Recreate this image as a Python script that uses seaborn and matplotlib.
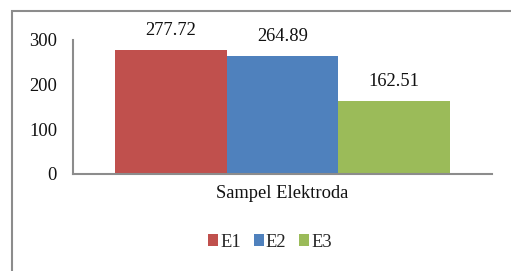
import pandas as pd
import matplotlib.pyplot as plt
import seaborn as sns
from matplotlib.patches import Rectangle

# data
category = ["Sampel Elektroda"]
electrodes = ["E1", "E2", "E3"]
values = [277.72, 264.89, 162.51]
colors = ["#C0504D", "#4F81BD", "#9BBB59"]
yticks = [0, 100, 200, 300]

df = pd.DataFrame({"sampel": category * 3, "elektroda": electrodes, "nilai": values})

sns.set_style("white")
plt.rcParams["font.family"] = ["Liberation Serif", "DejaVu Serif"]

fig = plt.figure(figsize=(5.11, 2.71), dpi=100)
ax = fig.add_axes([73 / 511, 97 / 271, 419 / 511, 134 / 271])

sns.barplot(data=df, x="sampel", y="nilai", hue="elektroda", palette=colors,
            width=0.8, saturation=1, linewidth=0, ax=ax)

for c in ax.containers:
    ax.bar_label(c, fmt="%.2f", padding=8, fontsize=13.3, color="#111111")

ax.set_xlim(-0.5, 0.5)
ax.set_ylim(0, 300)
ax.set_yticks(yticks)
ax.set_xlabel("")
ax.set_ylabel("")
ax.tick_params(axis="y", length=0, pad=11.5, labelsize=13.3, labelcolor="#111111")
ax.tick_params(axis="x", length=0, pad=8, labelsize=13.3, labelcolor="#111111")

for s in ["top", "right"]:
    ax.spines[s].set_visible(False)
for s in ["left", "bottom"]:
    ax.spines[s].set_color("#8c8c8c")
    ax.spines[s].set_linewidth(1.5)

handles, labels = ax.get_legend_handles_labels()
ax.get_legend().remove()
fig.legend(handles, labels, loc="center", bbox_to_anchor=(0.528, 0.107), ncol=3,
           frameon=False, fontsize=13.3, handlelength=0.55, handleheight=0.55,
           handletextpad=0.1, columnspacing=0.7)

# chart area border (only top and left visible in crop)
fig.patches.append(Rectangle((12 / 511, -0.05), 1.1, 1 - 11 / 271 + 0.05,
                             transform=fig.transFigure, fill=False,
                             edgecolor="#8c8c8c", linewidth=1.5))

fig.savefig("out.png", dpi=100)
